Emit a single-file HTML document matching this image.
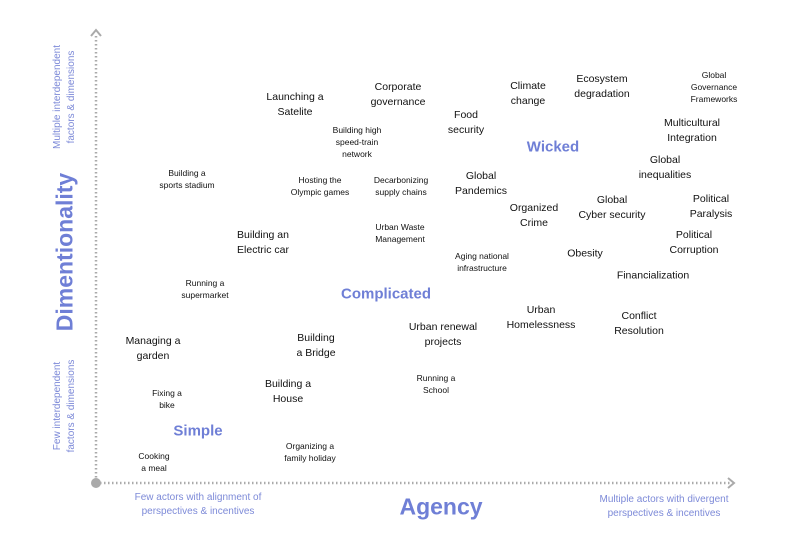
<!DOCTYPE html>
<html><head><meta charset="utf-8"><style>
body{margin:0;width:800px;height:546px;background:#fff;position:relative;overflow:hidden;font-family:"Liberation Sans",sans-serif;}
.t{position:absolute;transform:translate(-50%,-50%);text-align:center;color:#111;font-size:10.5px;line-height:15px;white-space:nowrap;}
.s{font-size:8.5px;line-height:12px;}
.b{color:#6f7fd6;font-weight:bold;font-size:15px;}
.l{color:#7d8ad8;font-size:10px;line-height:14px;}
</style></head><body>
<svg width="800" height="546" style="position:absolute;left:0;top:0">
<line x1="96" y1="36" x2="96" y2="483" stroke="#aaa" stroke-width="2.5" stroke-dasharray="1.5,2.5"/>
<line x1="96" y1="483" x2="730" y2="483" stroke="#aaa" stroke-width="2.5" stroke-dasharray="1.5,2.5"/>
<polyline points="91,36 96,30 101,36" fill="none" stroke="#aaa" stroke-width="2"/>
<polyline points="728,478 734,483 728,488" fill="none" stroke="#aaa" stroke-width="2"/>
<circle cx="96" cy="483" r="5" fill="#aaa"/>
</svg>
<div class="t b" style="left:65px;top:252px;font-size:23px;transform:translate(-50%,-50%) rotate(-90deg)">Dimentionality</div>
<div class="t l" style="left:65px;top:97px;transform:translate(-50%,-50%) rotate(-90deg)">Multiple interdependent<br>factors &amp; dimensions</div>
<div class="t l" style="left:65px;top:406px;transform:translate(-50%,-50%) rotate(-90deg)">Few interdependent<br>factors &amp; dimensions</div>
<div class="t b" style="left:441px;top:507px;font-size:23px">Agency</div>
<div class="t l" style="left:198px;top:505px">Few actors with alignment of<br>perspectives &amp; incentives</div>
<div class="t l" style="left:664px;top:507px">Multiple actors with divergent<br>perspectives &amp; incentives</div>
<div class="t b" style="left:553px;top:147px">Wicked</div>
<div class="t b" style="left:386px;top:294px">Complicated</div>
<div class="t b" style="left:198px;top:431px">Simple</div>
<div class="t" style="left:295px;top:105px">Launching a<br>Satelite</div>
<div class="t" style="left:398px;top:95px">Corporate<br>governance</div>
<div class="t s" style="left:357px;top:142px">Building high<br>speed-train<br>network</div>
<div class="t" style="left:466px;top:123px">Food<br>security</div>
<div class="t" style="left:528px;top:94px">Climate<br>change</div>
<div class="t" style="left:602px;top:87px">Ecosystem<br>degradation</div>
<div class="t s" style="left:714px;top:87px">Global<br>Governance<br>Frameworks</div>
<div class="t" style="left:692px;top:131px">Multicultural<br>Integration</div>
<div class="t" style="left:665px;top:168px">Global<br>inequalities</div>
<div class="t s" style="left:187px;top:179px">Building a<br>sports stadium</div>
<div class="t s" style="left:320px;top:186px">Hosting the<br>Olympic games</div>
<div class="t s" style="left:401px;top:186px">Decarbonizing<br>supply chains</div>
<div class="t" style="left:481px;top:184px">Global<br>Pandemics</div>
<div class="t" style="left:534px;top:216px">Organized<br>Crime</div>
<div class="t" style="left:612px;top:208px">Global<br>Cyber security</div>
<div class="t" style="left:711px;top:207px">Political<br>Paralysis</div>
<div class="t" style="left:694px;top:243px">Political<br>Corruption</div>
<div class="t" style="left:263px;top:243px">Building an<br>Electric car</div>
<div class="t s" style="left:400px;top:233px">Urban Waste<br>Management</div>
<div class="t s" style="left:482px;top:262px">Aging national<br>infrastructure</div>
<div class="t" style="left:585px;top:254px">Obesity</div>
<div class="t" style="left:653px;top:276px">Financialization</div>
<div class="t s" style="left:205px;top:289px">Running a<br>supermarket</div>
<div class="t" style="left:541px;top:318px">Urban<br>Homelessness</div>
<div class="t" style="left:639px;top:324px">Conflict<br>Resolution</div>
<div class="t" style="left:443px;top:335px">Urban renewal<br>projects</div>
<div class="t" style="left:316px;top:346px">Building<br>a Bridge</div>
<div class="t" style="left:153px;top:349px">Managing a<br>garden</div>
<div class="t s" style="left:436px;top:384px">Running a<br>School</div>
<div class="t" style="left:288px;top:392px">Building a<br>House</div>
<div class="t s" style="left:167px;top:399px">Fixing a<br>bike</div>
<div class="t s" style="left:310px;top:452px">Organizing a<br>family holiday</div>
<div class="t s" style="left:154px;top:462px">Cooking<br>a meal</div>
</body></html>
